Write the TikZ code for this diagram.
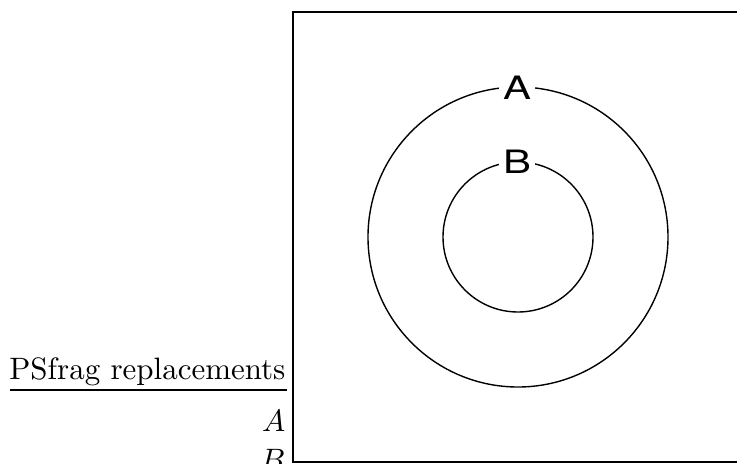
\documentclass[tikz,border=0pt]{standalone}
\usepackage{graphicx}
\usepackage{fontspec}
\newfontfamily\helv{TeX Gyre Heros}
\newcommand{\widelabel}[1]{\scalebox{1.3}[1]{#1}}
\begin{document}
\begin{tikzpicture}[x=0.323pt, y=-0.323pt,
    ringlabel/.style={fill=white, inner sep=1.2pt, font=\helv\fontsize{10.4}{12}\selectfont}]
    \useasboundingbox (0,0) rectangle (737,463);
    \clip (0,0) rectangle (737,463);

    % Frame (open to the right)
    \draw[line width=0.5pt] (293,12) rectangle (760,462);

    % Rings
    \coordinate (centre) at (518,237);
    \draw[line width=0.45pt] (centre) circle [radius=150];
    \draw[line width=0.45pt] (centre) circle [radius=75];

    % Ring labels
    \node[ringlabel] (outerA) at (517,88) {\widelabel{A}};
    \node[ringlabel] (innerB) at (517,162) {\widelabel{B}};

    % Replacement list
    \node[anchor=base east, inner sep=0pt] (title) at (286,379) {PSfrag replacements};
    \draw[line width=0.4pt] (10,390) -- (287,390);
    \node[anchor=base east, inner sep=0pt] (repA) at (286,431) {$A$};
    \node[anchor=base east, inner sep=0pt] (repB) at (286,470) {$B$};

\end{tikzpicture}
\end{document}
